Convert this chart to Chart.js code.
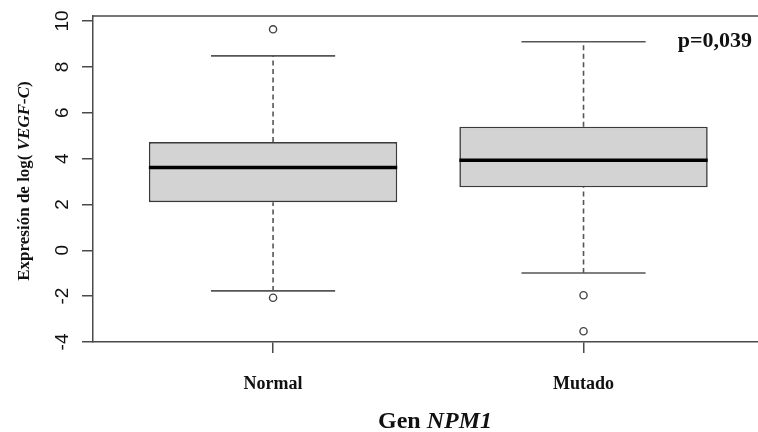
<!DOCTYPE html>
<html>
<head>
<meta charset="utf-8">
<script src="https://cdn.jsdelivr.net/npm/chart.js@4"></script>
<style>
  html, body { margin: 0; padding: 0; background: #ffffff; }
  canvas { display: block; }
</style>
</head>
<body>
<canvas id="c" width="758" height="432"></canvas>
<script>
// ---- data ----
const categories   = ['Normal', 'Mutado'];
const q1           = [2.10, 2.75];
const medians      = [3.61, 3.93];
const q3           = [4.72, 5.39];
const whiskerLow   = [-1.77, -0.99];
const whiskerHigh  = [8.48, 9.10];
const outliers     = [[9.64, -2.07], [-1.96, -3.53]];
const yTicks       = [-4, -2, 0, 2, 4, 6, 8, 10];
const pValueText   = 'p=0,039';

// ---- helpers to build library datasets from the values ----
const pos = categories.map((_, i) => i + 1);
const BOX_HALF = 0.4, CAP_HALF = 0.2;

const boxData = pos.map((x, i) => ({ x, y: [q1[i], q3[i]] }));
const medianData = pos.flatMap((x, i) => [
  { x: x - BOX_HALF, y: medians[i] }, { x: x + BOX_HALF, y: medians[i] }, { x: x + BOX_HALF, y: null }
]);
const whiskerData = pos.flatMap((x, i) => [
  { x, y: whiskerLow[i] }, { x, y: q1[i] }, { x, y: null },
  { x, y: q3[i] }, { x, y: whiskerHigh[i] }, { x, y: null }
]);
const capData = pos.flatMap((x, i) => [
  { x: x - CAP_HALF, y: whiskerLow[i] }, { x: x + CAP_HALF, y: whiskerLow[i] }, { x: x + CAP_HALF, y: null },
  { x: x - CAP_HALF, y: whiskerHigh[i] }, { x: x + CAP_HALF, y: whiskerHigh[i] }, { x: x + CAP_HALF, y: null }
]);
const outlierData = pos.flatMap((x, i) => outliers[i].map(v => ({ x, y: v })));

const AXIS_COLOR = '#4a4a4a';
const SERIF = '"Liberation Serif", "DejaVu Serif", serif';
const SANS = '"Liberation Sans", Arial, sans-serif';

function drawMixed(ctx, parts) {
  let total = 0;
  parts.forEach(p => { ctx.font = p.font; p.w = ctx.measureText(p.text).width; total += p.w; });
  let x = -total / 2;
  ctx.textAlign = 'left';
  parts.forEach(p => { ctx.font = p.font; ctx.fillText(p.text, x, 0); x += p.w; });
}

const textPlugin = {
  id: 'rText',
  afterDraw(chart) {
    const ctx = chart.ctx;
    const area = chart.chartArea;
    const ys = chart.scales.y, xs = chart.scales.x;
    ctx.save();
    // top side of the plot box
    ctx.strokeStyle = AXIS_COLOR;
    ctx.lineWidth = 1.5;
    ctx.beginPath();
    ctx.moveTo(area.left, area.top);
    ctx.lineTo(area.right, area.top);
    ctx.stroke();

    ctx.fillStyle = '#111';
    ctx.textBaseline = 'alphabetic';
    // y tick labels (rotated like R's default)
    ctx.font = '19px ' + SANS;
    ys.ticks.forEach(t => {
      const y = ys.getPixelForValue(t.value);
      ctx.save();
      ctx.translate(68, y);
      ctx.rotate(-Math.PI / 2);
      ctx.textAlign = 'center';
      ctx.fillText(String(t.value), 0, 0);
      ctx.restore();
    });
    // x tick labels
    ctx.font = 'bold 18px ' + SERIF;
    ctx.textAlign = 'center';
    categories.forEach((c, i) => {
      ctx.fillText(c, xs.getPixelForValue(pos[i]), 389);
    });
    // y axis title
    ctx.save();
    ctx.translate(29, (area.top + area.bottom) / 2 + 2);
    ctx.rotate(-Math.PI / 2);
    drawMixed(ctx, [
      { text: 'Expresión de log( ', font: 'bold 17px ' + SERIF },
      { text: 'VEGF-C', font: 'italic bold 17px ' + SERIF },
      { text: ')', font: 'bold 17px ' + SERIF }
    ]);
    ctx.restore();
    // x axis title
    ctx.save();
    ctx.translate(435, 428);
    drawMixed(ctx, [
      { text: 'Gen ', font: 'bold 24px ' + SERIF },
      { text: 'NPM1', font: 'italic bold 24px ' + SERIF }
    ]);
    ctx.restore();
    // p-value annotation
    ctx.font = 'bold 22px ' + SERIF;
    ctx.textAlign = 'right';
    ctx.fillText(pValueText, 752, 47);
    ctx.restore();
  }
};

new Chart(document.getElementById('c'), {
  type: 'bar',
  data: {
    datasets: [
      {
        type: 'line', label: 'median', data: medianData, order: 0,
        borderColor: '#000', borderWidth: 3.5, pointRadius: 0, spanGaps: false, fill: false
      },
      {
        type: 'line', label: 'outliers', data: outlierData, order: 1, showLine: false,
        pointRadius: 3.6, pointStyle: 'circle', pointBorderColor: '#444', pointBorderWidth: 1.4,
        pointBackgroundColor: 'rgba(255,255,255,0)'
      },
      {
        type: 'line', label: 'caps', data: capData, order: 2,
        borderColor: '#555', borderWidth: 1.6, pointRadius: 0, spanGaps: false, fill: false
      },
      {
        type: 'line', label: 'whiskers', data: whiskerData, order: 3,
        borderColor: '#555', borderWidth: 1.6, borderDash: [5, 3.5], pointRadius: 0, spanGaps: false, fill: false
      },
      {
        type: 'bar', label: 'box', data: boxData, order: 4,
        backgroundColor: '#d3d3d3', borderColor: '#3a3a3a', borderWidth: 1.6, borderSkipped: false,
        barPercentage: 1.0, categoryPercentage: 0.8
      }
    ]
  },
  options: {
    responsive: false,
    animation: false,
    devicePixelRatio: 1,
    layout: { autoPadding: false, padding: { top: 16, right: 0, left: 0, bottom: 0 } },
    plugins: { legend: { display: false }, tooltip: { enabled: false }, title: { display: false } },
    scales: {
      x: {
        type: 'linear', min: 0.42, max: 2.562, offset: false,
        afterBuildTicks: s => { s.ticks = pos.map(v => ({ value: v })); },
        afterFit: s => { s.height = 90; },
        ticks: { display: false },
        grid: { display: true, offset: false, drawOnChartArea: false, drawTicks: true, tickLength: 11, color: AXIS_COLOR, lineWidth: 1.5 },
        border: { display: true, color: AXIS_COLOR, width: 1.5 }
      },
      y: {
        type: 'linear', min: -4, max: 10.22,
        afterBuildTicks: s => { s.ticks = yTicks.map(v => ({ value: v })); },
        afterFit: s => { s.width = 93; },
        ticks: { display: false },
        grid: { display: true, offset: false, drawOnChartArea: false, drawTicks: true, tickLength: 11, color: AXIS_COLOR, lineWidth: 1.5 },
        border: { display: true, color: AXIS_COLOR, width: 1.5 }
      }
    }
  },
  plugins: [textPlugin]
});
</script>
</body>
</html>
